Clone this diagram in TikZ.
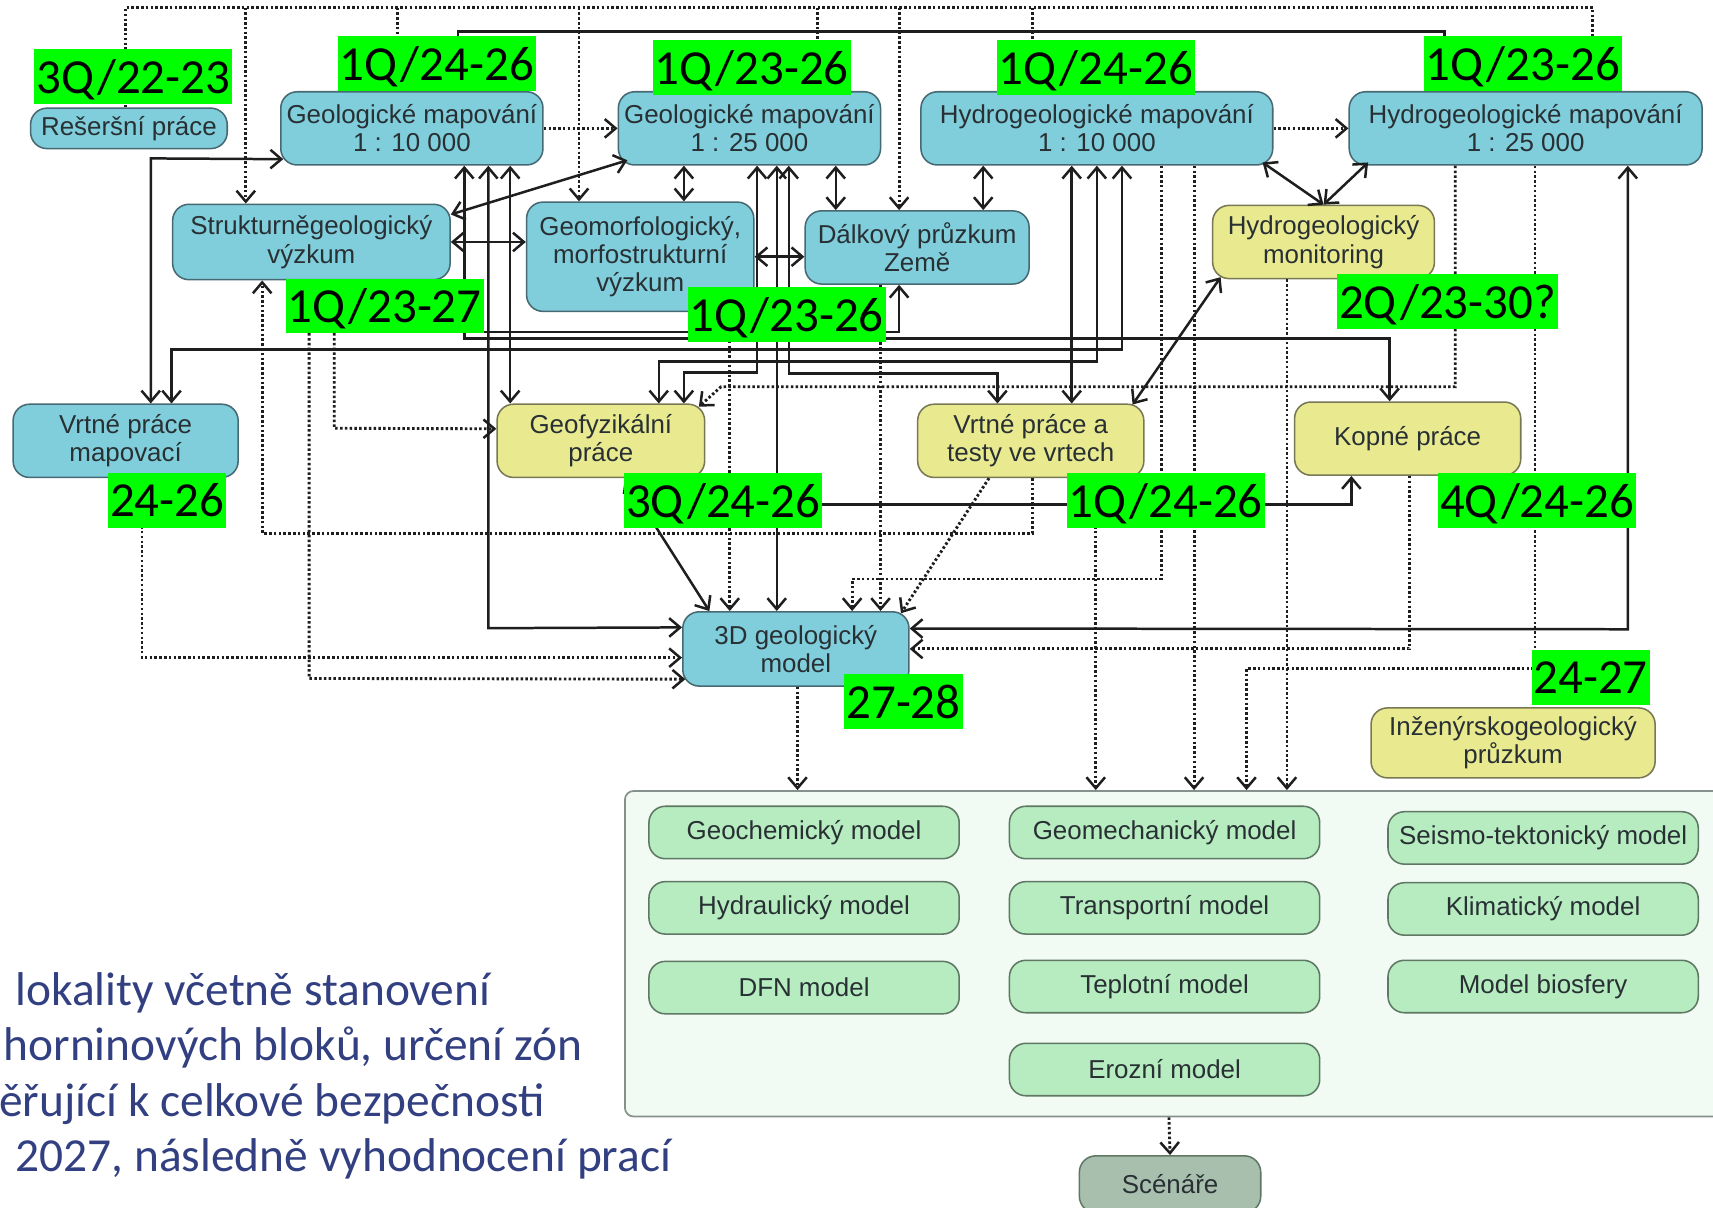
\documentclass[tikz,border=0pt]{standalone}
\usepackage{fontspec}
\setmainfont{Liberation Sans}
\newfontfamily\calib{Carlito}
\usetikzlibrary{arrows.meta,calc}
\definecolor{cyanF}{RGB}{128,206,219}
\definecolor{cyanD}{RGB}{70,105,115}
\definecolor{yelF}{RGB}{233,234,143}
\definecolor{yelD}{RGB}{120,120,85}
\definecolor{modF}{RGB}{182,236,192}
\definecolor{modD}{RGB}{95,120,100}
\definecolor{contF}{RGB}{241,250,243}
\definecolor{contD}{RGB}{135,145,140}
\definecolor{scenF}{RGB}{168,191,174}
\definecolor{txtC}{RGB}{40,48,52}
\definecolor{labG}{RGB}{0,255,0}
\definecolor{blueT}{RGB}{50,64,130}
\definecolor{lnC}{RGB}{30,30,30}
\tikzset{
  bx/.style n args={2}{rounded corners=0.3cm, minimum width=#1*0.02cm, minimum height=#2*0.02cm,
     inner sep=0pt, align=center, font=\fontsize{13.5}{14.8}\selectfont, text=txtC, line width=0.8pt},
  cyb/.style={fill=cyanF, draw=cyanD},
  yeb/.style={fill=yelF, draw=yelD},
  mdb/.style={bx={284}{48}, fill=modF, draw=modD},
  lab/.style={fill=labG, font=\calib\fontsize{25.5}{26}\selectfont, text=black, inner xsep=1pt,
     inner ysep=0pt, minimum height=1cm, text depth=0pt},
  ln/.style={line width=1.3pt, draw=lnC},
  dt/.style={line width=1.5pt, draw=lnC, dash pattern=on 1.3pt off 1.2pt},
  ar/.style={-{Straight Barb[length=2mm,width=3.4mm,line width=1.3pt]}},
  ar2/.style={{Straight Barb[length=2mm,width=3.4mm]}-{Straight Barb[length=2mm,width=3.4mm]}},
  btxt/.style={anchor=base west, inner sep=0pt, text=blueT, font=\calib\fontsize{24.7}{30}\selectfont}
}
\begin{document}
\begin{tikzpicture}[x=0.02cm,y=-0.02cm]
\useasboundingbox (0,0) rectangle (1568,1105);
\clip (0,0) rectangle (1568,1105);
\fill[white] (0,0) rectangle (1568,1105);

% guides
\foreach \v in {115,130,138,157,225,240,283,306,364,368,419,425,447,467,530,603,626,668,693,711,722,730,748,765,780,806,823,900,913,945,981,1003,1004,1027,1063,1070,1093,1141,1178,1237,1272,1290,1322,1332,1405,1458,1490}
  \coordinate (X\v) at (\v,0);

% container and models
\node[draw=contD, fill=contF, rounded corners=0.16cm, minimum width=1060*0.02cm,
      minimum height=298*0.02cm, line width=0.9pt] (cont) at (1102,873) {};
\node[mdb] (gch) at (736,762) {Geochemický model};
\node[mdb] (gmc) at (1066,762) {Geomechanický model};
\node[mdb] (sei) at (1412.5,767) {Seismo-tektonický model};
\node[mdb] (hyd) at (736,831) {Hydraulický model};
\node[mdb] (tra) at (1066,831) {Transportní model};
\node[mdb] (kli) at (1412.5,832) {Klimatický model};
\node[mdb] (dfn) at (736,904) {DFN model};
\node[mdb] (tep) at (1066,903) {Teplotní model};
\node[mdb] (bio) at (1412.5,903) {Model biosfery};
\node[mdb] (ero) at (1066,979) {Erozní model};
\node[bx={166}{52}, fill=scenF, draw=modD] (scen) at (1071,1084) {Scénáře};

% main boxes
\node[bx={180}{37},cyb] (res) at (118,117.5) {Rešeršní práce};
\node[bx={240}{67},cyb] (g10) at (377,117.5) {Geologické mapování\\1 : 10 000};
\node[bx={240}{67},cyb] (g25) at (686,117.5) {Geologické mapování\\1 : 25 000};
\node[bx={322}{67},cyb] (h10) at (1004,117.5) {Hydrogeologické mapování\\1 : 10 000};
\node[bx={323}{67},cyb] (h25) at (1396.5,117.5) {Hydrogeologické mapování\\1 : 25 000};
\node[bx={254}{69},cyb] (str) at (285,221.5) {Strukturněgeologický\\výzkum};
\node[bx={208}{100},cyb] (geom) at (586,235) {Geomorfologický,\\morfostrukturní\\výzkum};
\node[bx={205}{67},cyb] (dal) at (839.5,226.5) {Dálkový průzkum\\Země};
\node[bx={203}{67},yeb] (hmon) at (1211.5,221.5) {Hydrogeologický\\monitoring};
\node[bx={206}{67},cyb] (vrm) at (115,403.5) {Vrtné práce\\mapovací};
\node[bx={190}{67},yeb] (geof) at (550,403.5) {Geofyzikální\\práce};
\node[bx={207}{67},yeb] (vrt) at (943.5,403.5) {Vrtné práce a\\testy ve vrtech};
\node[bx={207}{67},yeb] (kop) at (1288.5,401.5) {Kopné práce};
\node[bx={207}{68},cyb] (m3d) at (728.5,594) {3D geologický\\model};
\node[bx={260}{64},yeb] (ing) at (1385,680) {Inženýrskogeologický\\průzkum};

% top dotted bus
\draw[dt] (res.north -| X115) -- (115,7) -- (1458,7) -- (h25.north -| X1458);
\foreach \v/\n in {225/str,530/geom,823/dal} \draw[dt,ar] (\v,7) -- (\n.north -| X\v);
\foreach \v/\n in {364/g10,748/g25,945/h10} \draw[dt] (\v,7) -- (\n.north -| X\v);
% top solid
\draw[ln] (g10.north -| X419) -- (419,29) -- (1322,29) -- (h25.north -| X1322);
\draw[dt,ar] (g10.east) -- (g25.west);
\draw[dt,ar] (h10.east) -- (h25.west);

% solid connectors
\draw[ln,ar2] ($(str.north east)+(0,10)$) -- ($(g25.south west)+(9,-5)$);
\draw[ln,ar2] (str.east) -- (str.east -| geom.west);
\draw[ln,ar2] (g25.south -| X626) -- (geom.north -| X626);
\draw[ln,ar2] (geom.east) -- (geom.east -| dal.west);
\draw[ln,ar2] (g25.south -| X765) -- (dal.north -| X765);
\draw[ln,ar2] (h10.south -| X900) -- (dal.north -| X900);
\draw[ln,ar2] (hmon.north) -- ($(h10.south east)+(-10,-3)$);
\draw[ln,ar2] (hmon.north) -- ($(h25.south west)+(18,-3)$);
\draw[ln,ar2] (vrm.north -| X138) -- (138,145) -- ($(g10.south west)+(3,-6)$);
\draw[ln,ar2] (vrm.north -| X157) -- (157,320) -- (1027,320) -- (h10.south -| X1027);
\draw[ln,ar2] (g10.south -| X425) -- (425,310) -- (1272,310) -- (kop.north -| X1272);
\draw[ln,ar2] (str.south -| X368) -- (368,304) -- (823,304) -- (dal.south -| X823);
\draw[ln,ar2] (g10.south -| X447) -- (447,575) -- ($(m3d.north west)+(0,15)$);
\draw[ln,ar2] (g10.south -| X467) -- (geof.north -| X467);
\draw[ln,ar2] (h10.south -| X1004) -- (1004,331) -- (603,331) -- (geof.north -| X603);
\draw[ln,ar2] (g25.south -| X693) -- (693,341) -- (626,341) -- (geof.north -| X626);
\draw[ln,ar2] (g25.south -| X711) -- (m3d.north -| X711);
\draw[ln,ar2] (g25.south -| X722) -- (722,342) -- (913,342) -- (vrt.north -| X913);
\draw[ln,ar2] (h10.south -| X981) -- (vrt.north -| X981);
\draw[ln,ar2] ($(hmon.south west)+(8,-2)$) -- ($(vrt.north east)+(-11,1)$);
\draw[ln,ar2] (h25.south -| X1490) -- (1490,576) -- ($(m3d.north east)+(0,16)$);
\draw[ln,ar2] ($(geof.south)+(22,0)$) -- ($(m3d.north west)+(25,0)$);
\coordinate (j1) at (588,462);
\draw[ln,ar] (j1) -- (1237,462) -- (kop.south -| X1237);

% dotted connectors
\draw[dt,ar] (vrt.south -| X945) -- (945,488) -- (240,488) -- (str.south -| X240);
\draw[dt,ar] (str.south -| X306) -- (306,392) -- ($(geof.west)+(0,-11)$);
\draw[dt,ar] (str.south -| X283) -- (283,621) -- ($(m3d.south west)+(3,-7)$);
\draw[dt,ar] (vrm.south -| X130) -- (130,602) -- ($(m3d.west)+(0,8)$);
\draw[dt,ar] (geom.south -| X668) -- (m3d.north -| X668);
\draw[dt,ar] (dal.south -| X806) -- (m3d.north -| X806);
\draw[dt,ar] (h10.south -| X1063) -- (1063,530) -- (780,530) -- (m3d.north -| X780);
\draw[dt,ar] ($(vrt.south west)+(66,0)$) -- ($(m3d.north east)+(-8,2)$);
\draw[dt,ar] (kop.south -| X1290) -- (1290,594) -- (m3d.east);
\draw[dt,ar] (h25.south -| X1332) -- (1332,354) -- (660,354) -- ($(geof.north east)+(-6,3)$);
\draw[dt,ar] (h25.south -| X1405) -- (1405,612) -- (1141,612) -- (cont.north -| X1141);
\draw[dt,ar] (h10.south -| X1093) -- (cont.north -| X1093);
\draw[dt,ar] (hmon.south -| X1178) -- (cont.north -| X1178);
\draw[dt,ar] (vrt.south -| X1003) -- (cont.north -| X1003);
\draw[dt,ar] (m3d.south -| X730) -- (cont.north -| X730);
\draw[dt,ar] (cont.south -| X1070) -- (scen.north);

% green labels
\node[lab] (l1) at (122,70) {3Q/22-23};
\node[lab] (l2) at (400,58) {1Q/24-26};
\node[lab] (l3) at (688,62) {1Q/23-26};
\node[lab] (l4) at (1003,62) {1Q/24-26};
\node[lab] (l5) at (1394,58) {1Q/23-26};
\node[lab] (l6) at (352,280) {1Q/23-27};
\node[lab] (l7) at (720,288) {1Q/23-26};
\node[lab] (l8) at (1325,276) {2Q/23-30?};
\node[lab] (l9) at (153,458) {24-26};
\node[lab] (l10) at (662,458) {3Q/24-26};
\node[lab] (l11) at (1067,458) {1Q/24-26};
\node[lab] (l12) at (1407,458) {4Q/24-26};
\node[lab] (l13) at (1456,620) {24-27};
\node[lab] (l14) at (827,642) {27-28};

% bottom-left text
\node[btxt] (t1) at (14,920) {lokality včetně stanovení};
\node[btxt] (t2) at (3,971) {horninových bloků, určení zón};
\node[btxt] (t3) at (-1,1022) {ěřující k celkové bezpečnosti};
\node[btxt] (t4) at (14,1072) {2027, následně vyhodnocení prací};
\end{tikzpicture}
\end{document}
